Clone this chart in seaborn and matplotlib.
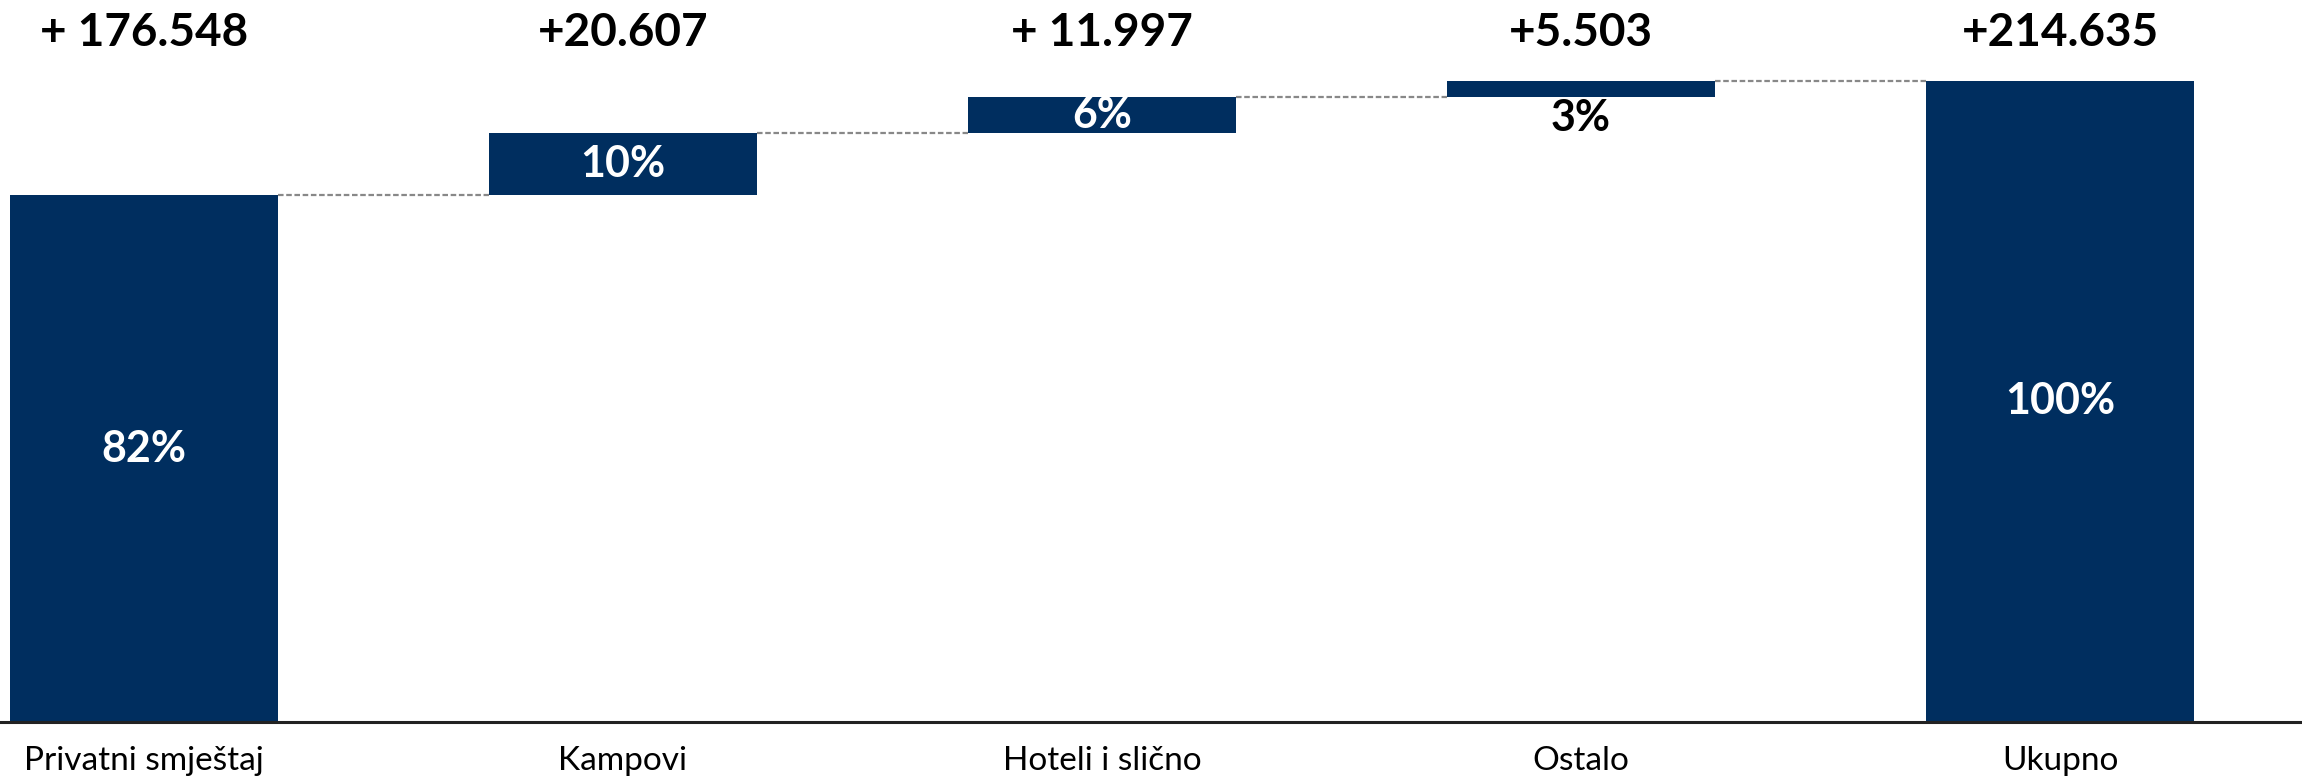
import numpy as np
import pandas as pd
import matplotlib
matplotlib.use("Agg")
import matplotlib.pyplot as plt
import seaborn as sns

# data
categories = ["Privatni smještaj", "Kampovi", "Hoteli i slično", "Ostalo", "Ukupno"]
increments = [176548, 20607, 11997, 5503]
value_labels = ["+ 176.548", "+20.607", "+ 11.997", "+5.503", "+214.635"]

NAVY = "#002E5F"
BAR_W = 0.56

total = sum(increments)
ends = np.cumsum(increments)
starts = np.concatenate([[0], ends[:-1]])

# waterfall: floating steps + full total bar (in thousands)
bottoms = np.concatenate([starts, [0]]) / 1000
heights = np.concatenate([increments, [total]]) / 1000
tops = bottoms + heights
shares = heights / (total / 1000) * 100

df = pd.DataFrame({"cat": categories, "h": heights})

sns.set_theme(style="white")
plt.rcParams["font.family"] = ["Lato", "DejaVu Sans"]

fig = plt.figure(figsize=(23.02, 7.84), dpi=100)
ax = fig.add_axes([0, 0.0791, 1, 0.9209])

sns.barplot(data=df, x="cat", y="h", bottom=bottoms, color=NAVY, saturation=1,
            width=BAR_W, ax=ax, linewidth=0, errorbar=None)

# dashed connectors between consecutive bars
for i in range(len(categories) - 1):
    ax.hlines(tops[i], i + BAR_W / 2, i + 1 - BAR_W / 2, colors="#888888",
              linestyles=(0, (2.5, 1.2)), linewidth=1.6)

# value labels on top
for i, lab in enumerate(value_labels):
    ax.text(i, 230.8, lab, ha="center", va="center", fontsize=33,
            fontweight="bold", color="black")

# share labels
for i, s in enumerate(shares):
    lab = f"{s:.0f}%"
    if i == 3:
        ax.text(i, bottoms[i] - 7.0, lab, ha="center", va="center", fontsize=31,
                fontweight="bold", color="black")
    else:
        y = bottoms[i] + heights[i] / 2 + (3 if i == 0 else 0)
        ax.text(i, y, lab, ha="center", va="center",
                fontsize=31, fontweight="bold", color="white")

ax.set_xlim(-0.30, 4.505)
ax.set_ylim(0, 241.7)
ax.set_xlabel("")
ax.set_ylabel("")
ax.set_yticks([])
ax.tick_params(axis="x", length=0, pad=17, labelsize=24, colors="black")
for sp in ["top", "left", "right"]:
    ax.spines[sp].set_visible(False)
ax.spines["bottom"].set_color("#222222")
ax.spines["bottom"].set_linewidth(2.2)

fig.savefig("out.png", dpi=100)
